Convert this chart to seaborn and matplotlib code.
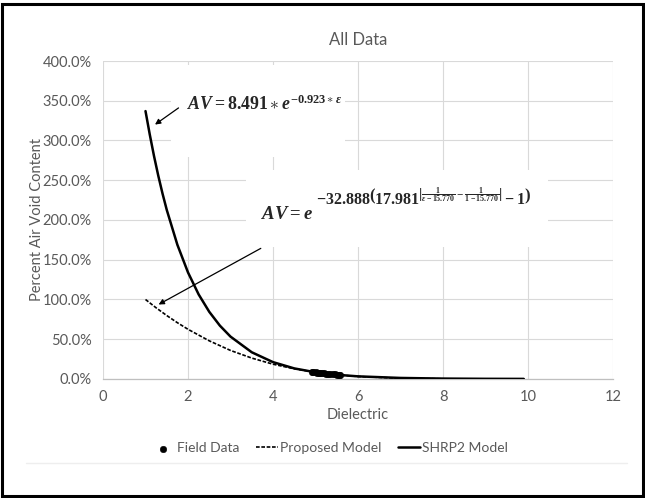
import numpy as np
import pandas as pd
import matplotlib
matplotlib.use("Agg")
import matplotlib.pyplot as plt
import seaborn as sns
from matplotlib.patches import Rectangle
from matplotlib.lines import Line2D
from matplotlib.ticker import FuncFormatter

# values
shrp2_x = [1.0, 1.1, 1.2, 1.3, 1.4, 1.5, 1.75, 2.0, 2.25, 2.5, 2.75, 3.0, 3.5, 4.0,
           4.5, 5.0, 5.5, 6.0, 7.0, 8.0, 9.0, 9.9]
shrp2_y = [3.370, 3.076, 2.805, 2.558, 2.333, 2.127, 1.688, 1.340, 1.064, 0.845, 0.671,
           0.533, 0.336, 0.212, 0.133, 0.084, 0.053, 0.033, 0.013, 0.005, 0.002, 0.001]
prop_x = [1.0, 1.25, 1.5, 1.75, 2.0, 2.5, 3.0, 3.5, 4.0, 4.5, 5.0, 5.5, 6.0, 7.0, 8.0, 9.0]
prop_y = [1.000, 0.895, 0.798, 0.708, 0.625, 0.480, 0.359, 0.263, 0.186, 0.128, 0.084,
          0.053, 0.031, 0.009, 0.002, 0.0002]
field_x = [4.92, 4.95, 5.00, 5.03, 5.08, 5.10, 5.15, 5.20, 5.25, 5.30, 5.35, 5.40,
           5.45, 5.50, 5.55, 5.58]
field_y = [0.090, 0.086, 0.082, 0.080, 0.078, 0.075, 0.072, 0.070, 0.068, 0.066, 0.063,
           0.060, 0.058, 0.056, 0.055, 0.052]

sns.set_theme(style="whitegrid")
plt.rcParams.update({
    "font.family": ["Lato", "DejaVu Sans"],
    "mathtext.fontset": "custom",
    "mathtext.rm": "Liberation Serif:bold",
    "mathtext.it": "Liberation Serif:italic:bold",
    "mathtext.bf": "Liberation Serif:bold",
    "grid.color": "#d9d9d9", "grid.linewidth": 0.8,
})
GRAY = "#595959"

fig = plt.figure(figsize=(6.45, 4.98), dpi=100)
ax = fig.add_axes([0.1597, 0.239, 0.7907, 0.6385])

shrp = pd.DataFrame({"x": shrp2_x, "y": shrp2_y})
prop = pd.DataFrame({"x": prop_x, "y": prop_y})
field = pd.DataFrame({"x": field_x, "y": field_y})

sns.lineplot(data=prop, x="x", y="y", ax=ax, color="black", lw=1.2,
             linestyle=(0, (2.2, 1.0)), label="Proposed Model", zorder=3)
sns.lineplot(data=shrp, x="x", y="y", ax=ax, color="black", lw=1.8,
             label="SHRP2 Model", zorder=4)
sns.scatterplot(data=field, x="x", y="y", ax=ax, color="black", s=22,
                edgecolor="black", label="Field Data", zorder=5)

# white boxes behind the equations
ax.add_patch(Rectangle((1.6, 2.79), 4.09, 1.16, facecolor="white", edgecolor="none", zorder=1))
ax.add_patch(Rectangle((3.36, 1.66), 7.11, 0.97, facecolor="white", edgecolor="none", zorder=1))

ax.text(1.98, 3.47, r"$AV = 8.491 \ast e^{-0.923\ast\varepsilon}$", fontsize=12.8,
        ha="left", va="center", zorder=6)
ax.text(3.72, 2.08, r"$AV = e$", fontsize=13.5, ha="left", va="center", zorder=6)
ax.text(5.0, 2.30,
        r"$-32.888\left(17.981^{\left|\frac{1}{\varepsilon-15.770}-\frac{1}{1-15.770}\right|}-1\right)$",
        fontsize=11.5, ha="left", va="center", zorder=6)
ax.annotate("", xy=(1.17, 3.18), xytext=(1.83, 3.43),
            arrowprops=dict(arrowstyle="-|>", color="black", lw=0.9, mutation_scale=8), zorder=6)
ax.annotate("", xy=(1.25, 0.92), xytext=(3.77, 1.66),
            arrowprops=dict(arrowstyle="-|>", color="black", lw=0.9, mutation_scale=8), zorder=6)

ax.set_xlim(0, 12)
ax.set_ylim(0, 4)
ax.set_xticks(np.arange(0, 13, 2))
ax.set_yticks(np.arange(0, 4.01, 0.5))
ax.yaxis.set_major_formatter(FuncFormatter(lambda v, _: f"{v * 100:.1f}%"))
ax.tick_params(axis="both", length=0, labelsize=10.5, labelcolor=GRAY)
ax.tick_params(axis="y", pad=8)
ax.tick_params(axis="x", pad=8)
ax.set_xlabel("")
ax.set_ylabel("")
for side in ["top", "right", "left"]:
    ax.spines[side].set_visible(False)
ax.spines["bottom"].set_color("#bfbfbf")
ax.spines["bottom"].set_linewidth(0.9)

fig.text(0.555, 0.92, "All Data", ha="center", va="center", fontsize=12, color=GRAY)
fig.text(0.555, 0.167, "Dielectric", ha="center", va="center", fontsize=10.5, color=GRAY)
fig.text(0.057, 0.56, "Percent Air Void Content", ha="center", va="center",
         rotation=90, fontsize=10.5, color=GRAY)

handles, labels = ax.get_legend_handles_labels()
order = [labels.index(n) for n in ["Field Data", "Proposed Model", "SHRP2 Model"]]
ax.legend([handles[i] for i in order], [labels[i] for i in order], loc="center",
          bbox_to_anchor=(0.512, 0.10), bbox_transform=fig.transFigure, ncol=3,
          frameon=False, fontsize=10, handlelength=1.6, handletextpad=0.15,
          columnspacing=1.2, labelcolor=GRAY)

fig.add_artist(Line2D([0.04, 0.972], [0.07, 0.07], color="#eeeeee", lw=1))
fig.add_artist(Rectangle((0.003, 0.004), 0.994, 0.988, transform=fig.transFigure,
                         fill=False, edgecolor="black", lw=2.2))

fig.savefig("out.png", dpi=100)
